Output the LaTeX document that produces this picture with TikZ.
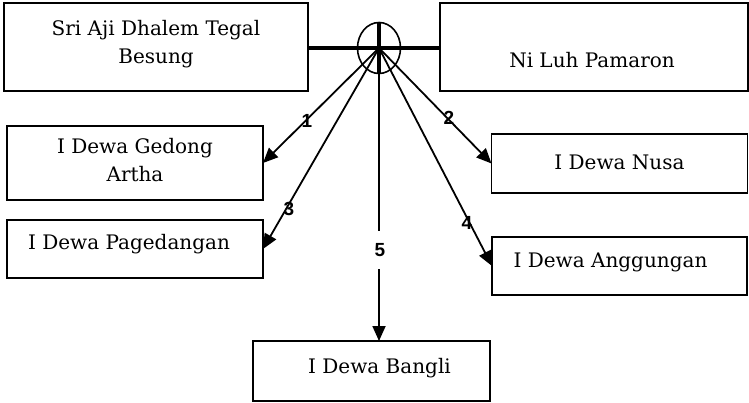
\documentclass[tikz,border=0pt]{standalone}
\usepackage{fontspec}
\setmainfont{DejaVu Serif}
\newfontfamily\labfont{Liberation Sans}
\usetikzlibrary{arrows.meta,shapes.geometric}
\begin{document}
\begin{tikzpicture}[x=1pt,y=-1pt,
  box/.style={draw,line width=1.6pt,inner sep=0pt,outer sep=0pt},
  txt/.style={font=\fontsize{20}{28}\selectfont,align=center,inner sep=0pt},
  arr/.style={line width=1.8pt,-{Triangle[length=15pt,width=13pt]}},
  num/.style={font=\labfont\bfseries\fontsize{19}{19}\selectfont,inner sep=0pt}]
\useasboundingbox (0,0) rectangle (749,403);
% boxes
\node[box,minimum width=304pt,minimum height=88pt,
  label={[txt,yshift=3pt]center:Sri Aji Dhalem Tegal\\Besung}] (sri) at (156,47) {};
\node[box,minimum width=308pt,minimum height=88pt,
  label={[txt,xshift=-2pt,yshift=-13pt]center:Ni Luh Pamaron}] (ni) at (594,47) {};
\node[box,minimum width=256pt,minimum height=74pt,
  label={[txt,yshift=3pt]center:I Dewa Gedong\\Artha}] (ged) at (135,163) {};
\node[box,minimum width=256pt,minimum height=58pt,
  label={[txt,xshift=-6pt,yshift=5pt]center:I Dewa Pagedangan}] (pag) at (135,249) {};
\node[box,minimum width=256pt,minimum height=59pt,
  label={[txt,yshift=1pt]center:I Dewa Nusa}] (nus) at (619.5,163.5) {};
\node[box,minimum width=255pt,minimum height=58pt,
  label={[txt,xshift=-9pt,yshift=4pt]center:I Dewa Anggungan}] (ang) at (619.5,266) {};
\node[box,minimum width=237pt,minimum height=60pt,
  label={[txt,xshift=8pt,yshift=3pt]center:I Dewa Bangli}] (ban) at (371.5,371) {};
% marriage symbol
\coordinate (c) at (379,48);
\node[draw,ellipse,line width=1.6pt,minimum width=43pt,minimum height=51pt,inner sep=0pt] (el) at (379,48) {};
\draw[line width=4pt] (sri.east |- c) -- (ni.west |- c);
\draw[line width=3.5pt] (el.north) -- (el.south);
% arrows
\draw[arr] (c) -- (ged.east);
\draw[arr] (c) -- (pag.east);
\draw[arr] (c) -- (nus.west);
\draw[arr] (c) -- (ang.west);
\draw[arr] (c) -- (c |- ban.north);
% numbers
\node[num] (n1) at (307,121) {1};
\node[num] (n2) at (449,118) {2};
\node[num] (n3) at (289,209) {3};
\node[num] (n4) at (467,223) {4};
\node[num,fill=white,inner xsep=3pt,inner ysep=12pt] (n5) at (380,250) {5};
\end{tikzpicture}
\end{document}
